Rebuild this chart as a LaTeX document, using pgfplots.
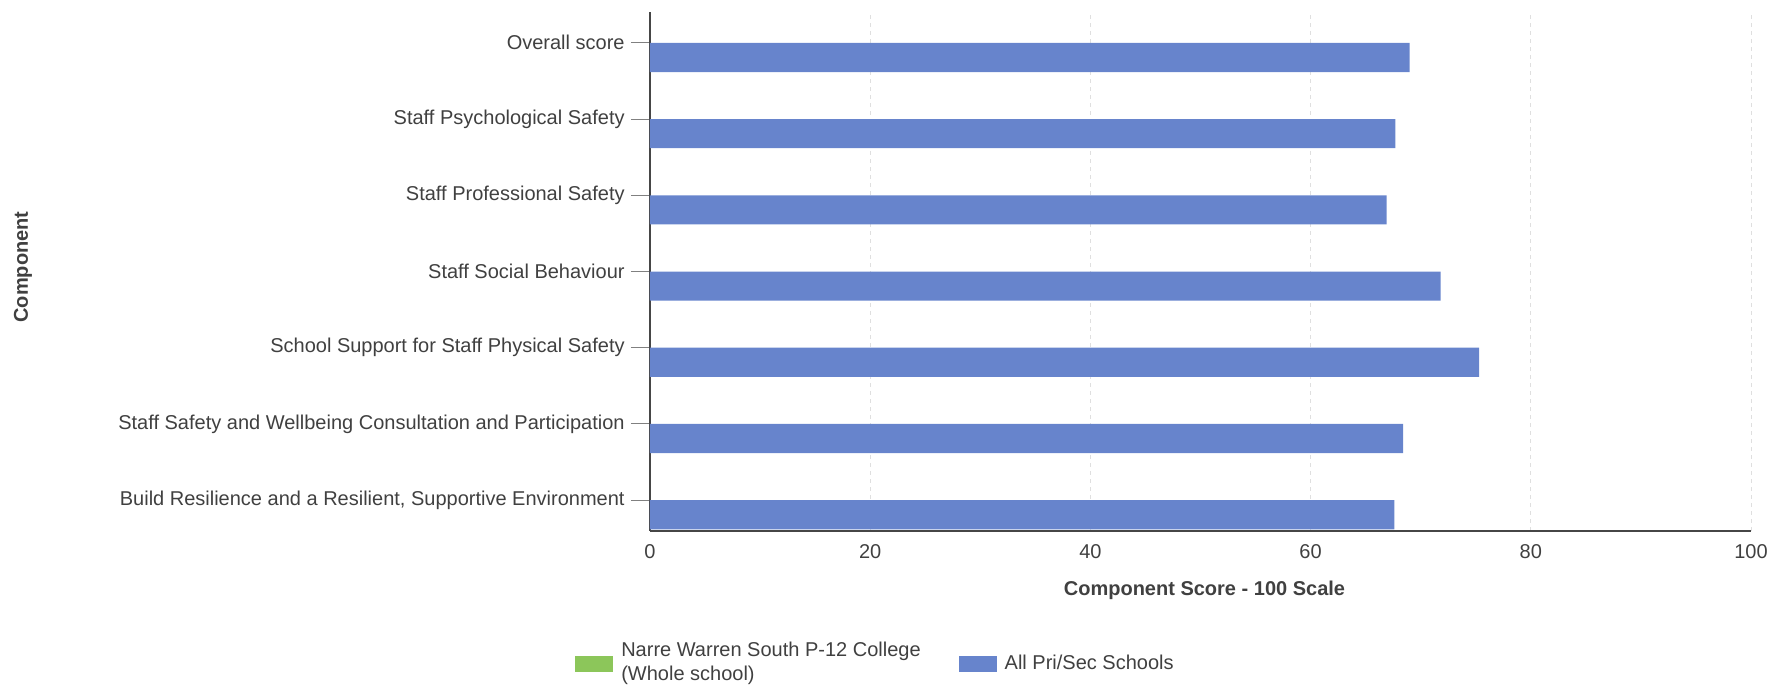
\documentclass[border=0pt]{standalone}
\usepackage{fontspec}
\setmainfont{Liberation Sans}
\usepackage{pgfplots}
\pgfplotsset{compat=1.18}
\definecolor{barblue}{RGB}{103,132,204}
\definecolor{bargreen}{RGB}{140,198,90}
\definecolor{txt}{RGB}{64,64,64}
\definecolor{axisgray}{RGB}{70,70,70}
\begin{document}
\begin{tikzpicture}
\useasboundingbox (-325pt,-77.15pt) rectangle (561pt,265.35pt);
\begin{axis}[
  at={(0,0)}, anchor=south west,
  scale only axis, width=550.5pt, height=259.2pt,
  xbar, bar width=14.6pt, bar shift=-7.3pt,
  xmin=0, xmax=100, ymin=-0.4, ymax=6.4,
  xtick={0,20,40,60,80,100},
  ytick={0,1,2,3,4,5,6},
  yticklabels={{Build Resilience and a Resilient, Supportive Environment},
               {Staff Safety and Wellbeing Consultation and Participation},
               {School Support for Staff Physical Safety},
               {Staff Social Behaviour},
               {Staff Professional Safety},
               {Staff Psychological Safety},
               {Overall score}},
  axis x line*=bottom, axis y line*=left,
  axis line style={-, draw=axisgray, line width=1pt},
  tick align=outside, major tick length=9.5pt,
  xtick style={draw=none},
  ytick style={draw=gray, line width=0.5pt},
  xmajorgrids, major x grid style={gray!25, line width=0.4pt, dash pattern=on 2pt off 2pt},
  /pgf/number format/assume math mode=true,
  tick label style={font=\fontsize{10}{12}\selectfont, text=txt},
  yticklabel style={anchor=east, inner sep=0pt, xshift=-3pt},
  xticklabel style={anchor=center, inner sep=0pt, yshift=-1pt},
  xlabel={Component Score - 100 Scale},
  xlabel style={font=\bfseries\fontsize{10}{12}\selectfont, text=txt, at={(axis description cs:0.5,0)}, anchor=center, yshift=-29.65pt, xshift=2pt},
  legend columns=2,
  legend style={draw=none, fill=none, inner sep=0pt, at={(axis description cs:-0.0682,-0.2571)}, anchor=west,
    font=\fontsize{10}{12}\selectfont, text=txt, cells={anchor=west},
    /tikz/every even column/.append style={column sep=17pt},
    /tikz/every odd column/.append style={column sep=2pt}},
  legend image code/.code={\fill[#1] (0pt,-4pt) rectangle (19pt,4pt);},
]
\addlegendimage{fill=bargreen, draw=none}
\addlegendentry{\raisebox{4pt}[14.5pt][9.5pt]{\begin{tabular}{@{}l@{}}Narre Warren South P-12 College\\(Whole school)\end{tabular}}}
\addplot[fill=barblue, draw=none] coordinates {(67.6,0) (68.4,1) (75.3,2) (71.8,3) (66.9,4) (67.7,5) (69.0,6)};
\addlegendentry{All Pri/Sec Schools}
\end{axis}
\node[rotate=90, font=\bfseries\fontsize{10}{12}\selectfont, text=txt] at (-313.5pt,131.85pt) {Component};
\end{tikzpicture}
\end{document}
